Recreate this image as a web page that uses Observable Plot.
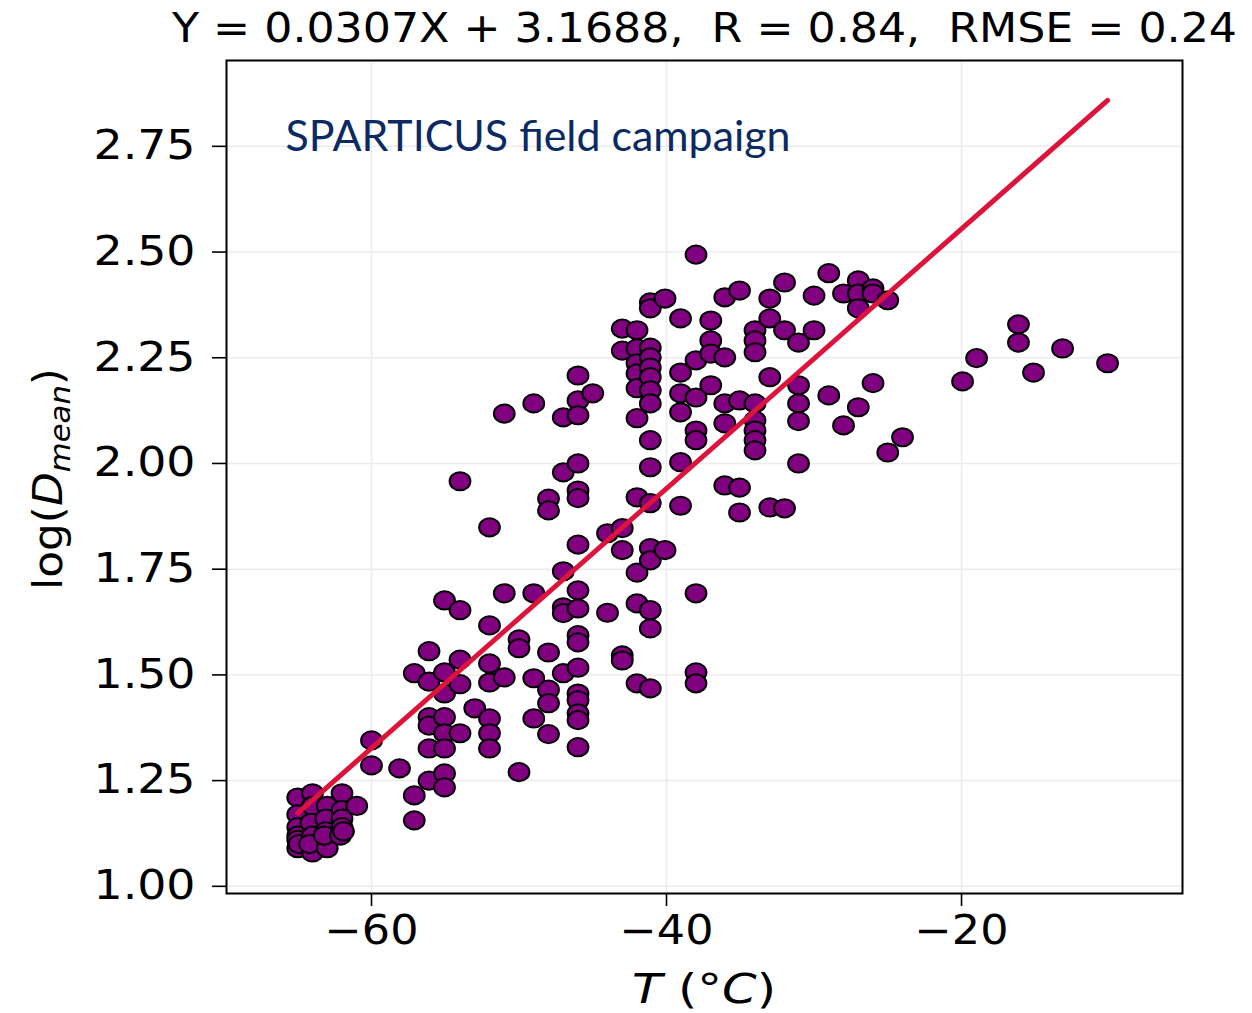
<!DOCTYPE html>
<html>
<head>
<meta charset="utf-8">
<script src="https://cdn.jsdelivr.net/npm/d3@7"></script>
<script src="https://cdn.jsdelivr.net/npm/@observablehq/plot@0.6"></script>
<style>
  html, body { margin: 0; padding: 0; background: #fff; }
</style>
</head>
<body>
<div id="chart"></div>
<script>
// ---- data ----
const tempC = [
  -65.0, -65.0, -65.0, -65.0, -65.0, -65.0, -64.9,
  -64.0, -64.0, -64.1, -64.0, -64.0, -64.2,
  -63.0, -63.1, -63.1, -63.0, -63.2,
  -62.0, -62.0, -62.0, -62.1, -62.0, -61.9,
  -61.0, -60.0, -60.0, -58.1, -57.1, -57.1, -57.1,
  -56.1, -56.1, -56.1, -56.1, -56.1, -56.1,
  -55.05, -55.05, -55.05, -55.05, -55.05, -55.05, -55.05, -55.05,
  -54.0, -54.0, -54.0, -54.0, -54.0, -53.0,
  -52.0, -52.0, -52.0, -52.0, -52.0, -52.0, -52.0,
  -51.0, -51.0, -51.0, -50.0, -50.0, -50.0,
  -49.0, -49.0, -49.0, -49.0,
  -48.0, -48.0, -48.0, -48.0, -48.0, -48.0,
  -47.0, -47.0, -47.0, -47.0, -47.0, -47.0,
  -46.0, -46.0, -46.0, -46.0, -46.0, -46.0, -46.0, -46.0, -46.0,
  -46.0, -46.0, -46.0, -46.0, -46.0, -46.0, -46.0, -46.0,
  -45.0, -44.0, -44.0,
  -43.0, -43.0, -43.0, -43.0, -43.0, -43.0,
  -42.0, -42.0, -42.0, -42.0, -42.0, -42.0, -42.0, -42.0, -42.0, -42.0,
  -41.1, -41.1, -41.1, -41.1, -41.1, -41.1, -41.1, -41.1,
  -41.1, -41.1, -41.1, -41.1, -41.1, -41.1, -41.1, -41.1,
  -40.1, -40.1,
  -39.05, -39.05, -39.05, -39.05, -39.05, -39.05,
  -38.0, -38.0, -38.0, -38.0, -38.0, -38.0, -38.0, -38.0,
  -37.0, -37.0, -37.0, -37.0,
  -36.05, -36.05, -36.05, -36.05, -36.05,
  -35.05, -35.05, -35.05, -35.05,
  -34.0, -34.0, -34.0, -34.0, -34.0, -34.0, -34.0, -34.0,
  -33.0, -33.0, -33.0, -33.0,
  -32.0, -32.0, -32.0,
  -31.05, -31.05, -31.05, -31.05, -31.05,
  -30.0, -30.0, -29.0, -29.0, -28.0, -28.0,
  -27.0, -27.0, -27.0, -27.0,
  -26.0, -26.0, -26.0, -25.0, -25.0, -24.0,
  -19.93, -18.98, -16.14, -16.14, -15.12, -13.15, -10.1
];
const logD = [
  1.21, 1.17, 1.14, 1.12, 1.11, 1.09, 1.10,
  1.22, 1.19, 1.15, 1.12, 1.08, 1.10,
  1.19, 1.16, 1.13, 1.09, 1.12,
  1.22, 1.18, 1.16, 1.12, 1.14, 1.13,
  1.19, 1.345, 1.286, 1.279, 1.504, 1.215, 1.156,
  1.556, 1.484, 1.40, 1.38, 1.326, 1.25,
  1.676, 1.506, 1.456, 1.40, 1.362, 1.326, 1.267, 1.234,
  1.958, 1.653, 1.536, 1.478, 1.362, 1.421,
  1.849, 1.617, 1.527, 1.482, 1.397, 1.362, 1.326,
  2.118, 1.693, 1.494, 1.584, 1.563, 1.27,
  2.142, 1.693, 1.492, 1.397,
  1.917, 1.889, 1.553, 1.465, 1.433, 1.36,
  2.109, 1.979, 1.745, 1.66, 1.646, 1.504,
  2.208, 2.149, 2.114, 2.0, 1.936, 1.918, 1.808, 1.70, 1.657,
  1.594, 1.577, 1.517, 1.456, 1.44, 1.409, 1.393, 1.329,
  2.166, 1.835, 1.647,
  2.319, 2.267, 1.847, 1.795, 1.546, 1.534,
  2.315, 2.272, 2.237, 2.213, 2.178, 2.107, 1.920, 1.742, 1.669, 1.480,
  2.381, 2.367, 2.274, 2.251, 2.227, 2.204, 2.173, 2.142,
  2.055, 1.991, 1.906, 1.80, 1.771, 1.653, 1.61, 1.468,
  2.39, 1.795,
  2.343, 2.215, 2.166, 2.121, 2.003, 1.90,
  2.494, 2.244, 2.156, 2.078, 2.055, 1.693, 1.506, 1.48,
  2.338, 2.291, 2.26, 2.185,
  2.393, 2.251, 2.142, 2.095, 1.948,
  2.409, 2.149, 1.943, 1.884,
  2.315, 2.291, 2.263, 2.142, 2.102, 2.078, 2.055, 2.031,
  2.39, 2.343, 2.204, 1.896,
  2.428, 2.315, 1.894,
  2.286, 2.185, 2.142, 2.100, 2.0,
  2.397, 2.315, 2.45, 2.161, 2.402, 2.09,
  2.433, 2.402, 2.367, 2.133,
  2.414, 2.402, 2.19, 2.386, 2.026, 2.062,
  2.194, 2.249, 2.329, 2.286, 2.215, 2.272, 2.237
];
const xTicks = [-60, -40, -20];
const yTicks = [1.00, 1.25, 1.50, 1.75, 2.00, 2.25, 2.50, 2.75];
const fitSlope = 0.0307;
const fitIntercept = 3.1688;
const titleText = "Y = 0.0307X + 3.1688,  R = 0.84,  RMSE = 0.24";
const annotationText = "SPARTICUS field campaign";

// ---- derived tables ----
const points = tempC.map((t, i) => ({t, d: logD[i]}));
const fitLine = d3.extent(tempC).map(t => ({t, d: fitSlope * t + fitIntercept}));

// ellipse marker (the reference markers are slightly wider than tall)
const RX = 10.4, RY = 9.1, K = 0.5523;
const ellipse = {
  draw(c) {
    c.moveTo(RX, 0);
    c.bezierCurveTo(RX, K * RY, K * RX, RY, 0, RY);
    c.bezierCurveTo(-K * RX, RY, -RX, K * RY, -RX, 0);
    c.bezierCurveTo(-RX, -K * RY, -K * RX, -RY, 0, -RY);
    c.bezierCurveTo(K * RX, -RY, RX, -K * RY, RX, 0);
    c.closePath();
  }
};

const plot = Plot.plot({
  width: 1252,
  height: 1013,
  marginLeft: 226,
  marginRight: 70,
  marginTop: 60,
  marginBottom: 120,
  style: {fontFamily: "'DejaVu Sans'", fontSize: "40px", background: "#fff", color: "#000"},
  x: {domain: [-69.83, -5.02]},
  y: {domain: [0.983, 2.953]},
  marks: [
    Plot.gridX(xTicks, {stroke: "#ececec", strokeOpacity: 1, strokeWidth: 1.5}),
    Plot.gridY(yTicks, {stroke: "#ececec", strokeOpacity: 1, strokeWidth: 1.5}),
    Plot.dot(points, {x: "t", y: "d", symbol: ellipse, r: 10, fill: "#800080", stroke: "#000", strokeWidth: 2}),
    Plot.line(fitLine, {x: "t", y: "d", stroke: "#dc143c", strokeWidth: 5}),
    Plot.frame({stroke: "#000", strokeWidth: 2}),
    Plot.axisX(xTicks, {tickSize: 13, tickPadding: 9, strokeWidth: 1.6, label: null}),
    Plot.axisY(yTicks, {tickSize: 14, tickPadding: 17, strokeWidth: 1.6, tickFormat: ".2f", label: null}),
    Plot.text([annotationText], {
      x: () => -65.83, y: () => 2.740, text: d => d,
      textAnchor: "start", lineAnchor: "bottom",
      fill: "#0b2a63", fontFamily: "Lato", fontSize: 43
    }),
    Plot.text([titleText], {frameAnchor: "top", dy: -31, text: d => d, lineAnchor: "middle", fill: "#000"})
  ]
});

document.getElementById("chart").appendChild(plot);

// ---- fine typography (matplotlib-like stretched text) ----
const svg = d3.select(plot);
svg.selectAll('g[aria-label="y-axis tick label"] text')
  .attr("textLength", 102).attr("lengthAdjust", "spacingAndGlyphs");
svg.selectAll('g[aria-label="x-axis tick label"] text')
  .attr("textLength", 94).attr("lengthAdjust", "spacingAndGlyphs");
svg.selectAll('g[aria-label="text"] text').each(function () {
  const s = d3.select(this);
  if (s.text() === titleText) s.attr("textLength", 1065).attr("lengthAdjust", "spacingAndGlyphs");
  if (s.text() === annotationText) s.attr("textLength", 505).attr("lengthAdjust", "spacingAndGlyphs");
});

// y-axis label: log(D_mean)
const yl = svg.append("text")
  .attr("transform", "translate(62,479) rotate(-90)")
  .attr("text-anchor", "middle")
  .attr("font-family", "'DejaVu Sans'")
  .attr("font-size", 40)
  .attr("fill", "#000");
yl.append("tspan").text("log(");
yl.append("tspan").attr("font-style", "italic").text("D");
yl.append("tspan").attr("font-style", "italic").attr("font-size", 28).attr("dy", 8).text("mean");
yl.append("tspan").attr("dy", -8).text(")");
yl.attr("textLength", 222).attr("lengthAdjust", "spacingAndGlyphs");

// x-axis label: T (°C)
const xl = svg.append("text")
  .attr("x", 704).attr("y", 1003)
  .attr("text-anchor", "middle")
  .attr("font-family", "'DejaVu Sans'")
  .attr("font-size", 40)
  .attr("fill", "#000");
xl.append("tspan").attr("font-style", "italic").text("T");
xl.append("tspan").text(" (°");
xl.append("tspan").attr("font-style", "italic").text("C");
xl.append("tspan").text(")");
xl.attr("textLength", 144).attr("lengthAdjust", "spacingAndGlyphs");
</script>
</body>
</html>
